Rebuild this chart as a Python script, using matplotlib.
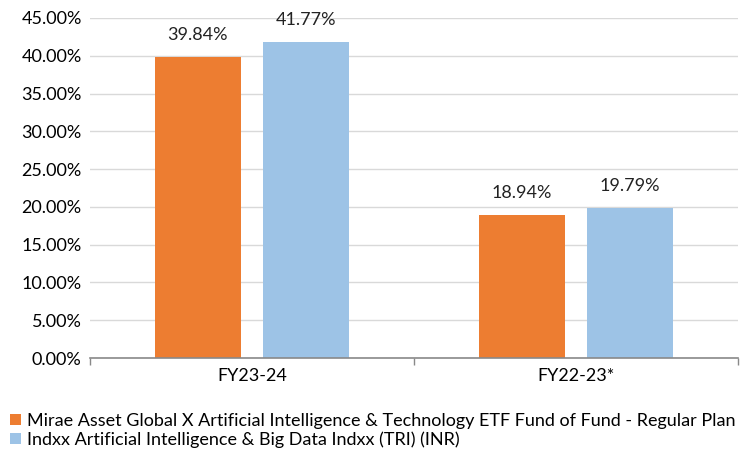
import numpy as np
import matplotlib.pyplot as plt
from matplotlib.ticker import FuncFormatter, FixedLocator

plt.rcParams['font.family'] = ['Lato', 'DejaVu Sans']

categories = ['FY23-24', 'FY22-23*']
fund_values = [39.84, 18.94]
index_values = [41.77, 19.79]
series_names = ['Mirae Asset Global X Artificial Intelligence & Technology ETF Fund of Fund - Regular Plan',
                'Indxx Artificial Intelligence & Big Data Indxx (TRI) (INR)']
colors = ['#ED7D31', '#9DC3E6']

fig = plt.figure(figsize=(7.44, 4.58), dpi=100)
ax = fig.add_axes([0.121, 0.2183, 0.871, 0.7424])

x = np.arange(len(categories))
w = 0.266
off = 0.167
b1 = ax.bar(x - off, fund_values, w, color=colors[0], label=series_names[0], zorder=3)
b2 = ax.bar(x + off, index_values, w, color=colors[1], label=series_names[1], zorder=3)

for bars in (b1, b2):
    for r in bars:
        ax.text(r.get_x() + r.get_width() / 2, r.get_height() + 1.9, f'{r.get_height():.2f}%',
                ha='center', va='bottom', fontsize=13, color='#222222', clip_on=False)

ax.set_ylim(0, 45)
ax.set_yticks(np.arange(0, 46, 5))
ax.yaxis.set_major_formatter(FuncFormatter(lambda v, p: f'{v:.2f}%'))
ax.set_xlim(-0.5, 1.5)
ax.set_xticks(x)
ax.set_xticklabels(categories)
ax.xaxis.set_minor_locator(FixedLocator([-0.5, 0.5, 1.5]))
ax.tick_params(axis='x', which='major', length=0, pad=7, labelsize=13)
ax.tick_params(axis='x', which='minor', length=5, color='#898989', width=1)
ax.tick_params(axis='y', length=0, pad=6, labelsize=13)

ax.grid(axis='y', color='#D9D9D9', linewidth=1, zorder=0)
for s in ['top', 'right', 'left']:
    ax.spines[s].set_visible(False)
ax.spines['bottom'].set_color('#898989')
ax.spines['bottom'].set_linewidth(1.2)
ax.spines['bottom'].set_zorder(4)

fig.legend(loc='lower left', bbox_to_anchor=(0.0, 0.0), ncol=1, frameon=False,
           fontsize=13, handlelength=0.6, handleheight=0.6, handletextpad=0.35,
           labelspacing=0.15, borderaxespad=0.15)

fig.savefig('out.png', dpi=100)
